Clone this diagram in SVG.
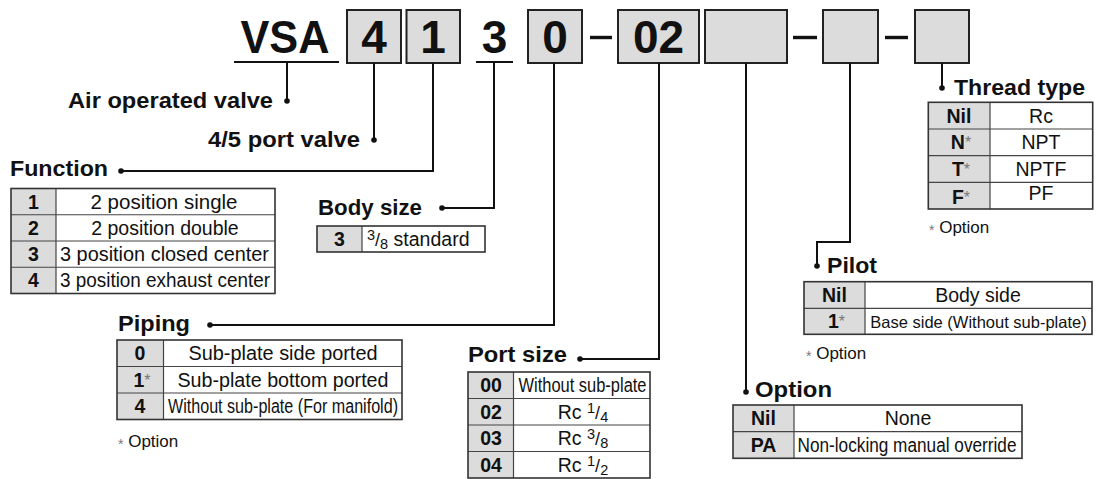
<svg xmlns="http://www.w3.org/2000/svg" width="1103" height="479" viewBox="0 0 1103 479">
<style>
text{font-family:"Liberation Sans",Arial,Helvetica,sans-serif;fill:#111}
.hdr{font-weight:bold;font-size:46px;text-anchor:middle}
.lbl{font-weight:bold;font-size:22px}
.cb{font-weight:bold;font-size:19.5px;text-anchor:middle}
.ct{font-size:19.5px;text-anchor:middle}
.note{font-size:17px}
.ast{font-weight:normal;font-size:16px;fill:#777}
.nast{font-weight:normal;font-size:14px;fill:#777}
.box{fill:#dcdcdc;stroke:#222;stroke-width:2}
.tbl{fill:none;stroke:#333;stroke-width:1.6}
.bg{fill:#fff}
.gc{fill:#dcdcdc}
.ln{stroke:#444;stroke-width:1.2}
.con{fill:none;stroke:#111;stroke-width:2}
.dot{fill:#111}
.dash{stroke:#111;stroke-width:3.4}
.ul{stroke:#111;stroke-width:1.8}
</style>

<g id="model-code">
  <text class="hdr" x="285" y="53" textLength="89" lengthAdjust="spacingAndGlyphs">VSA</text>
  <line class="ul" x1="234" y1="62" x2="339" y2="62"/>
  <rect class="box" x="347" y="10" width="54" height="53"/>
  <text class="hdr" x="374" y="53">4</text>
  <rect class="box" x="406.5" y="10" width="53.5" height="53"/>
  <text class="hdr" x="433" y="53">1</text>
  <text class="hdr" x="494.5" y="53">3</text>
  <line class="ul" x1="476" y1="62" x2="513" y2="62"/>
  <rect class="box" x="528" y="10" width="54" height="53"/>
  <text class="hdr" x="555" y="53">0</text>
  <line class="dash" x1="590" y1="37.5" x2="612" y2="37.5"/>
  <rect class="box" x="618" y="10" width="81" height="53"/>
  <text class="hdr" x="658.5" y="53">02</text>
  <rect class="box" x="705" y="10" width="82" height="53"/>
  <line class="dash" x1="793" y1="37.5" x2="817" y2="37.5"/>
  <rect class="box" x="823" y="10" width="55" height="53"/>
  <line class="dash" x1="885" y1="37.5" x2="908" y2="37.5"/>
  <rect class="box" x="915" y="10" width="54" height="53"/>
</g>

<g id="connectors">
  <path class="con" d="M287 62V101"/>
  <path class="con" d="M374 63V140"/>
  <path class="con" d="M433 63V171H121"/>
  <path class="con" d="M494 62V208H442"/>
  <path class="con" d="M554 63V325H210"/>
  <path class="con" d="M659 63V359H580"/>
  <path class="con" d="M746 63V392"/>
  <path class="con" d="M850 63V242H817V266"/>
  <path class="con" d="M942 63V88"/>
  <circle class="dot" cx="287" cy="101" r="2.8"/>
  <circle class="dot" cx="374" cy="140" r="2.8"/>
  <circle class="dot" cx="121" cy="171" r="2.8"/>
  <circle class="dot" cx="442" cy="208" r="2.8"/>
  <circle class="dot" cx="210" cy="325" r="2.8"/>
  <circle class="dot" cx="580" cy="359" r="2.8"/>
  <circle class="dot" cx="746" cy="392" r="2.8"/>
  <circle class="dot" cx="817" cy="266" r="2.8"/>
  <circle class="dot" cx="942" cy="88" r="2.8"/>
</g>

<g id="air-operated-valve">
  <text class="lbl" x="68" y="108" textLength="205" lengthAdjust="spacingAndGlyphs">Air operated valve</text>
</g>

<g id="port-valve">
  <text class="lbl" x="208" y="147" textLength="152" lengthAdjust="spacingAndGlyphs">4/5 port valve</text>
</g>

<g id="function">
  <text class="lbl" x="10" y="176" textLength="98" lengthAdjust="spacingAndGlyphs">Function</text>
  <rect class="bg" x="11" y="188.5" width="264" height="105"/>
  <rect class="gc" x="11" y="188.5" width="45" height="105"/>
  <line class="ln" x1="11" y1="214.75" x2="275" y2="214.75"/>
  <line class="ln" x1="11" y1="241" x2="275" y2="241"/>
  <line class="ln" x1="11" y1="267.25" x2="275" y2="267.25"/>
  <line class="ln" x1="56" y1="188.5" x2="56" y2="293.5"/>
  <rect class="tbl" x="11" y="188.5" width="264" height="105"/>
  <text class="cb" x="33.5" y="208.6">1</text>
  <text class="cb" x="33.5" y="234.9">2</text>
  <text class="cb" x="33.5" y="261.1">3</text>
  <text class="cb" x="33.5" y="287.4">4</text>
  <text class="ct" x="164" y="208.6" textLength="147" lengthAdjust="spacingAndGlyphs">2 position single</text>
  <text class="ct" x="165" y="234.9">2 position double</text>
  <text class="ct" x="164.5" y="261.1" textLength="209" lengthAdjust="spacingAndGlyphs">3 position closed center</text>
  <text class="ct" x="165" y="287.4" textLength="210" lengthAdjust="spacingAndGlyphs">3 position exhaust center</text>
</g>

<g id="body-size">
  <text class="lbl" x="318" y="215" textLength="104" lengthAdjust="spacingAndGlyphs">Body size</text>
  <rect class="bg" x="317" y="226" width="168" height="26"/>
  <rect class="gc" x="317" y="226" width="45" height="26"/>
  <line class="ln" x1="362" y1="226" x2="362" y2="252"/>
  <rect class="tbl" x="317" y="226" width="168" height="26"/>
  <text class="cb" x="339.5" y="246">3</text>
  <text class="ct" x="367" y="246" style="text-anchor:start"><tspan font-size="14.5" dy="-6">3</tspan><tspan font-size="18" dy="6">/</tspan><tspan font-size="14.5" dy="3">8</tspan><tspan dy="-3"> standard</tspan></text>
</g>

<g id="piping">
  <text class="lbl" x="118" y="331" textLength="72" lengthAdjust="spacingAndGlyphs">Piping</text>
  <rect class="bg" x="117" y="340" width="285" height="79.5"/>
  <rect class="gc" x="117" y="340" width="46.5" height="79.5"/>
  <line class="ln" x1="117" y1="366.5" x2="402" y2="366.5"/>
  <line class="ln" x1="117" y1="393" x2="402" y2="393"/>
  <line class="ln" x1="163.5" y1="340" x2="163.5" y2="419.5"/>
  <rect class="tbl" x="117" y="340" width="285" height="79.5"/>
  <text class="cb" x="140" y="360.3">0</text>
  <text class="cb" x="142" y="386.8">1<tspan class="ast" dy="-1">*</tspan></text>
  <text class="cb" x="140" y="413.3">4</text>
  <text class="ct" x="283" y="360.3" textLength="189" lengthAdjust="spacingAndGlyphs">Sub-plate side ported</text>
  <text class="ct" x="283" y="386.8" textLength="211" lengthAdjust="spacingAndGlyphs">Sub-plate bottom ported</text>
  <text class="ct" x="283" y="413.3" textLength="230" lengthAdjust="spacingAndGlyphs">Without sub-plate (For manifold)</text>
  <text class="note" x="118" y="447"><tspan class="nast" dy="2">*</tspan><tspan dy="-2"> Option</tspan></text>
</g>

<g id="port-size">
  <text class="lbl" x="468" y="362" textLength="99" lengthAdjust="spacingAndGlyphs">Port size</text>
  <rect class="bg" x="468" y="372" width="182" height="106"/>
  <rect class="gc" x="468" y="372" width="45.5" height="106"/>
  <line class="ln" x1="468" y1="398.5" x2="650" y2="398.5"/>
  <line class="ln" x1="468" y1="425" x2="650" y2="425"/>
  <line class="ln" x1="468" y1="451.5" x2="650" y2="451.5"/>
  <line class="ln" x1="513.5" y1="372" x2="513.5" y2="478"/>
  <rect class="tbl" x="468" y="372" width="182" height="106"/>
  <text class="cb" x="491" y="392.3">00</text>
  <text class="cb" x="491" y="418.8">02</text>
  <text class="cb" x="491" y="445.3">03</text>
  <text class="cb" x="491" y="471.8">04</text>
  <text class="ct" x="582.5" y="392.3" textLength="128" lengthAdjust="spacingAndGlyphs">Without sub-plate</text>
  <text class="ct" x="583" y="418.8">Rc <tspan font-size="14.5" dy="-6">1</tspan><tspan font-size="18" dy="6">/</tspan><tspan font-size="14.5" dy="3">4</tspan></text>
  <text class="ct" x="583" y="445.3">Rc <tspan font-size="14.5" dy="-6">3</tspan><tspan font-size="18" dy="6">/</tspan><tspan font-size="14.5" dy="3">8</tspan></text>
  <text class="ct" x="583" y="471.8">Rc <tspan font-size="14.5" dy="-6">1</tspan><tspan font-size="18" dy="6">/</tspan><tspan font-size="14.5" dy="3">2</tspan></text>
</g>

<g id="option">
  <text class="lbl" x="755" y="397" textLength="77" lengthAdjust="spacingAndGlyphs">Option</text>
  <rect class="bg" x="733" y="405" width="289" height="53.3"/>
  <rect class="gc" x="733" y="405" width="61" height="53.3"/>
  <line class="ln" x1="733" y1="431.7" x2="1022" y2="431.7"/>
  <line class="ln" x1="794" y1="405" x2="794" y2="458.3"/>
  <rect class="tbl" x="733" y="405" width="289" height="53.3"/>
  <text class="cb" x="763.5" y="425.3">Nil</text>
  <text class="cb" x="763.5" y="452">PA</text>
  <text class="ct" x="908" y="425.3">None</text>
  <text class="ct" x="907" y="452" textLength="219" lengthAdjust="spacingAndGlyphs">Non-locking manual override</text>
</g>

<g id="pilot">
  <text class="lbl" x="827" y="272.5" textLength="50" lengthAdjust="spacingAndGlyphs">Pilot</text>
  <rect class="bg" x="804" y="281.7" width="288" height="52.6"/>
  <rect class="gc" x="804" y="281.7" width="61" height="52.6"/>
  <line class="ln" x1="804" y1="308.3" x2="1092" y2="308.3"/>
  <line class="ln" x1="865" y1="281.7" x2="865" y2="334.3"/>
  <rect class="tbl" x="804" y="281.7" width="288" height="52.6"/>
  <text class="cb" x="834.5" y="302">Nil</text>
  <text class="cb" x="836.5" y="328.3">1<tspan class="ast" dy="-1">*</tspan></text>
  <text class="ct" x="978" y="302">Body side</text>
  <text class="ct" x="978.5" y="327.8" style="font-size:16.5px">Base side (Without sub-plate)</text>
  <text class="note" x="806" y="359"><tspan class="nast" dy="2">*</tspan><tspan dy="-2"> Option</tspan></text>
</g>

<g id="thread-type">
  <text class="lbl" x="954" y="95" textLength="131" lengthAdjust="spacingAndGlyphs">Thread type</text>
  <rect class="bg" x="928.3" y="102.3" width="164.4" height="106.7"/>
  <rect class="gc" x="928.3" y="102.3" width="61.7" height="106.7"/>
  <line class="ln" x1="928.3" y1="129" x2="1092.7" y2="129"/>
  <line class="ln" x1="928.3" y1="155.7" x2="1092.7" y2="155.7"/>
  <line class="ln" x1="928.3" y1="182.3" x2="1092.7" y2="182.3"/>
  <line class="ln" x1="990" y1="102.3" x2="990" y2="209"/>
  <rect class="tbl" x="928.3" y="102.3" width="164.4" height="106.7"/>
  <text class="cb" x="959" y="122.6">Nil</text>
  <text class="cb" x="961" y="149.3">N<tspan class="ast" dy="-1">*</tspan></text>
  <text class="cb" x="961" y="176">T<tspan class="ast" dy="-1">*</tspan></text>
  <text class="cb" x="961" y="203.5">F<tspan class="ast" dy="-1">*</tspan></text>
  <text class="ct" x="1041" y="122.6">Rc</text>
  <text class="ct" x="1041" y="149.3">NPT</text>
  <text class="ct" x="1041" y="176">NPTF</text>
  <text class="ct" x="1041" y="200">PF</text>
  <text class="note" x="929" y="233"><tspan class="nast" dy="2">*</tspan><tspan dy="-2"> Option</tspan></text>
</g>
</svg>
